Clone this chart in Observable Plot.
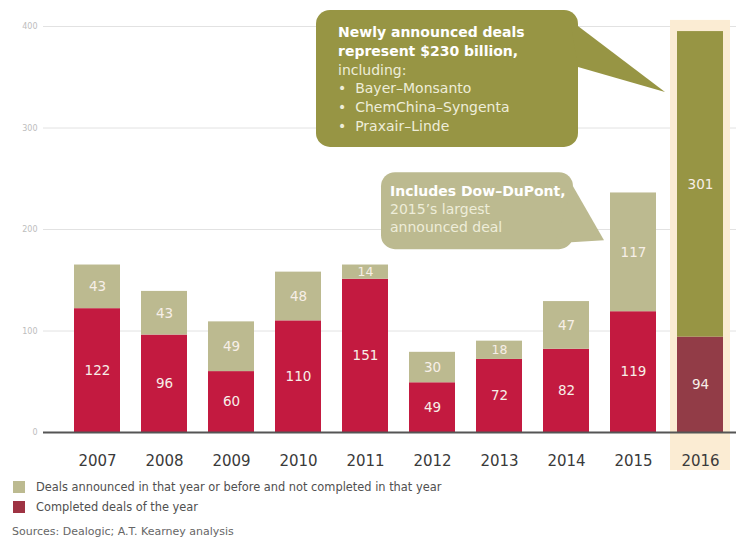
<!DOCTYPE html>
<html><head><meta charset="utf-8">
<script src="https://cdn.jsdelivr.net/npm/d3@7"></script>
<script src="https://cdn.jsdelivr.net/npm/@observablehq/plot@0.6"></script>
<style>
body{margin:0;background:#fff;width:738px;height:540px;position:relative;overflow:hidden;}
.leg{position:absolute;left:13px;font-family:"DejaVu Sans",sans-serif;font-size:11.4px;color:#505050;display:flex;align-items:center;white-space:nowrap;height:14px;}
.sw{width:12px;height:12px;margin-right:11px;display:inline-block;}
.src{position:absolute;left:12px;top:525px;font-family:"DejaVu Sans",sans-serif;font-size:11px;color:#666;white-space:nowrap;}
</style></head><body>
<div id="chart"></div>
<div class="leg" style="top:480px"><span class="sw" style="background:#bcba90"></span>Deals announced in that year or before and not completed in that year</div>
<div class="leg" style="top:500px"><span class="sw" style="background:#9e3343"></span>Completed deals of the year</div>
<div class="src">Sources: Dealogic; A.T. Kearney analysis</div>
<script>
const years = ["2007","2008","2009","2010","2011","2012","2013","2014","2015","2016"];
const completed = [122, 96, 60, 110, 151, 49, 72, 82, 119, 94];
const announced = [43, 43, 49, 48, 14, 30, 18, 47, 117, 301];
const yTicks = [0, 100, 200, 300, 400];
const gridTicks = [100, 200, 300, 400];
const highlightYear = "2016";
const bandTop = 406;

const bigNote = [
  {text: "Newly announced deals", bold: true},
  {text: "represent $230 billion,", bold: true},
  {text: "including:", bold: false},
  {text: "•  Bayer–Monsanto", bold: false},
  {text: "•  ChemChina–Syngenta", bold: false},
  {text: "•  Praxair–Linde", bold: false}
];
const dowNote = [
  {text: "Includes Dow–DuPont,", bold: true},
  {text: "2015’s largest", bold: false},
  {text: "announced deal", bold: false}
];

const colors = {
  completed: "#c31a40", announced: "#bcba90",
  completedHi: "#923c47", announcedHi: "#979544",
  band: "#fbecd3"
};

const rows = years.flatMap((year, i) => [
  {year, series: "completed", value: completed[i], y1: 0, y2: completed[i]},
  {year, series: "announced", value: announced[i], y1: completed[i], y2: completed[i] + announced[i]}
]);
rows.forEach(d => {
  d.mid = (d.y1 + d.y2) / 2;
  const hi = d.year === highlightYear;
  d.fill = d.series === "completed" ? (hi ? colors.completedHi : colors.completed) : (hi ? colors.announcedHi : colors.announced);
});

const chart = Plot.plot({
  width: 738, height: 475,
  marginLeft: 60, marginRight: 2, marginTop: 26, marginBottom: 43,
  style: {fontFamily: "DejaVu Sans, sans-serif", background: "transparent"},
  x: {domain: years, paddingInner: 0.32, paddingOuter: 0.16, axis: null},
  y: {domain: [0, 400], axis: null},
  color: {type: "identity"},
  marks: [
    Plot.ruleY(gridTicks, {stroke: "#e2e2e2", strokeWidth: 1, insetLeft: -17}),
    Plot.barY([highlightYear], {x: d => d, y1: 0, y2: bandTop, fill: colors.band, insetLeft: -7, insetRight: -7, insetBottom: -38}),
    Plot.barY(rows, {x: "year", y1: "y1", y2: "y2", fill: "fill"}),
    Plot.text(rows, {x: "year", y: "mid", text: d => String(d.value), fill: "#f7efe8", fontSize: d => d.value < 20 ? 12.5 : 13.5}),
    Plot.ruleY([0], {stroke: "#555", strokeWidth: 2, insetLeft: -17}),
    Plot.axisY({ticks: yTicks, tickSize: 0, tickPadding: 23, fontSize: 8, color: "#bdbdbd", label: null}),
    Plot.axisX({tickSize: 0, tickPadding: 23, fontSize: 15, color: "#3a3a3a", label: null})
  ]
});
document.getElementById("chart").appendChild(chart);

// Callout bubbles anchored to the scales
const sx = chart.scale("x"), sy = chart.scale("y");
const svg = d3.select(chart);
function bubble(tip, box, tail, fill, lines, textX, firstY, lh) {
  const g = svg.append("g");
  g.append("rect").attr("x", box.l).attr("y", box.t).attr("width", box.r - box.l).attr("height", box.b - box.t)
    .attr("rx", 14).attr("fill", fill);
  g.append("path").attr("d", `M${tail[0][0]},${tail[0][1]}L${tip.x},${tip.y}L${tail[1][0]},${tail[1][1]}Z`).attr("fill", fill);
  const t = g.append("text").attr("font-family", "DejaVu Sans, sans-serif").attr("font-size", 14).attr("text-anchor", "start");
  lines.forEach((ln, i) => {
    t.append("tspan").attr("x", textX).attr("y", firstY + i * lh)
      .attr("font-weight", ln.bold ? "bold" : "normal")
      .attr("fill", ln.bold ? "#ffffff" : "#eeedd9")
      .text(ln.text);
  });
}
{
  const tip = {x: sx.apply("2016") - 12, y: sy.apply(335)};
  const box = {l: tip.x - 349, r: tip.x - 87, t: tip.y - 82, b: tip.y + 55};
  bubble(tip, box, [[box.r - 8, box.t + 10], [box.r, tip.y - 25]], colors.announcedHi, bigNote, box.l + 22, box.t + 27, 18.8);
}
{
  const tip = {x: sx.apply("2015") - 6, y: sy.apply(189)};
  const box = {l: tip.x - 223, r: tip.x - 31, t: tip.y - 68, b: tip.y + 9};
  bubble(tip, box, [[box.r, box.t + 14], [box.r - 18, box.b - 6]], colors.announced, dowNote, box.l + 9, box.t + 24, 18);
}
</script>
</body></html>
